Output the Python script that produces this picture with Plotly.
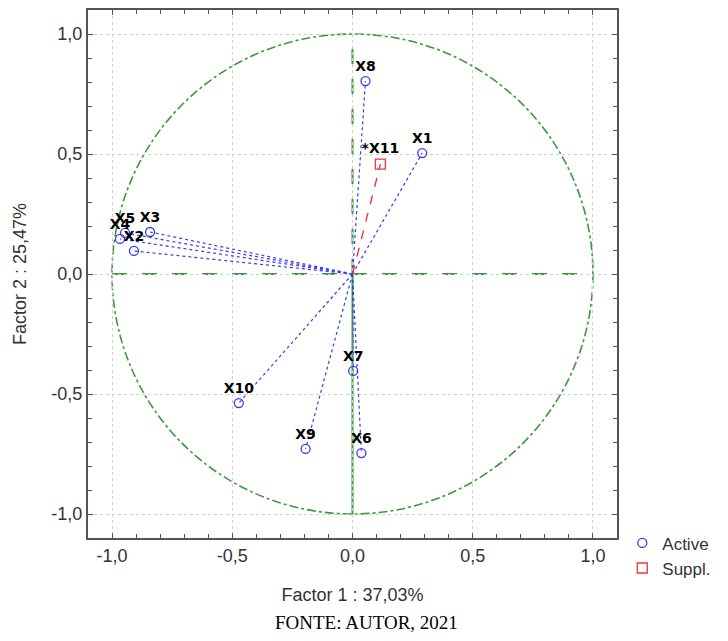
import plotly.graph_objects as go

# Active variables (Factor 1, Factor 2 coordinates)
active_labels = ["X1", "X2", "X3", "X4", "X5", "X6", "X7", "X8", "X9", "X10"]
active_f1 = [0.290, -0.909, -0.842, -0.967, -0.946, 0.037, 0.003, 0.054, -0.195, -0.473]
active_f2 = [0.504, 0.096, 0.175, 0.146, 0.171, -0.746, -0.404, 0.804, -0.729, -0.538]

# Supplementary variable
suppl_labels = ["*X11"]
suppl_f1 = [0.116]
suppl_f2 = [0.458]

tick_vals = [-1.0, -0.5, 0.0, 0.5, 1.0]
tick_text = ["-1,0", "-0,5", "0,0", "0,5", "1,0"]

x_title = "Factor 1 : 37,03%"
y_title = "Factor 2 : 25,47%"
footer = "FONTE: AUTOR, 2021"

BLUE = "#3a3aee"
RED = "#e8393f"
GREEN = "#3b9a3b"

fig = go.Figure()

# Unit circle and reference axes
fig.add_shape(type="circle", xref="x", yref="y", x0=-1, y0=-1, x1=1, y1=1,
              line=dict(color=GREEN, width=1.6, dash="dashdot"), layer="below")
fig.add_shape(type="line", xref="x", yref="y", x0=-1, y0=0, x1=1, y1=0,
              line=dict(color=GREEN, width=2, dash="longdash"), layer="below")
fig.add_shape(type="line", xref="x", yref="y", x0=0, y0=0, x1=0, y1=1,
              line=dict(color=GREEN, width=2, dash="longdash"), layer="below")
fig.add_shape(type="line", xref="x", yref="y", x0=0, y0=-1, x1=0, y1=0,
              line=dict(color=GREEN, width=2), layer="below")

# Vectors from origin
for xv, yv in zip(active_f1, active_f2):
    fig.add_trace(go.Scatter(x=[0, xv], y=[0, yv], mode="lines",
                             line=dict(color=BLUE, width=1.2, dash="dot"),
                             showlegend=False, hoverinfo="skip"))
for xv, yv in zip(suppl_f1, suppl_f2):
    fig.add_trace(go.Scatter(x=[0, xv], y=[0, yv], mode="lines",
                             line=dict(color=RED, width=1.4, dash="dash"),
                             showlegend=False, hoverinfo="skip"))

label_font = dict(family="DejaVu Sans", size=14, color="black", weight="bold")

fig.add_trace(go.Scatter(x=active_f1, y=active_f2, mode="markers+text",
                         text=active_labels, textposition="top center",
                         textfont=label_font, name="Active",
                         marker=dict(symbol="circle-open", size=9, color=BLUE,
                                     line=dict(width=1.3, color=BLUE))))
fig.add_trace(go.Scatter(x=suppl_f1, y=suppl_f2, mode="markers+text",
                         text=suppl_labels, textposition="top center",
                         textfont=label_font, name="Suppl.",
                         marker=dict(symbol="square-open", size=10, color=RED,
                                     line=dict(width=1.3, color=RED))))

axis_common = dict(
    range=[-1.1, 1.1], tickvals=tick_vals, ticktext=tick_text,
    ticks="inside", ticklen=5, tickwidth=1, tickcolor="#555555",
    showline=True, linecolor="#555555", linewidth=2, mirror="ticks",
    showgrid=True, gridcolor="#cfcfcf", griddash="dot", gridwidth=1,
    zeroline=False,
    minor=dict(dtick=0.1, tick0=0, ticks="inside", ticklen=4,
               tickcolor="#555555", showgrid=False),
    tickfont=dict(family="Liberation Sans, Arial", size=18, color="#333333"),
    automargin=False,
)

fig.update_xaxes(**axis_common,
                 title=dict(text=x_title, standoff=24,
                            font=dict(family="Liberation Sans, Arial", size=18, color="#333333")))
fig.update_yaxes(**axis_common,
                 ticklabelstandoff=0,
                 title=dict(text=y_title, standoff=20,
                            font=dict(family="Liberation Sans, Arial", size=18, color="#333333")))

fig.add_annotation(text=footer, xref="paper", yref="paper", x=0.527, y=-0.16,
                   xanchor="center", yanchor="middle", showarrow=False,
                   font=dict(family="Liberation Serif, Times New Roman", size=19, color="black"))

fig.update_layout(
    width=720, height=633,
    margin=dict(l=80, r=111, t=2, b=103),
    paper_bgcolor="white", plot_bgcolor="white",
    legend=dict(x=1.01, y=0.024, xanchor="left", yanchor="top",
                font=dict(family="Liberation Sans, Arial", size=17, color="#333333"),
                itemwidth=30, tracegroupgap=0, bgcolor="rgba(0,0,0,0)"),
)

fig.write_html("out.html")
